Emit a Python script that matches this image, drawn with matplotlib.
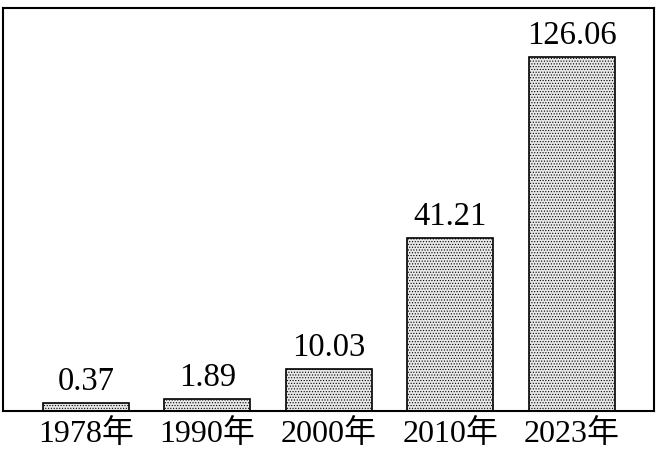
import matplotlib
matplotlib.use("Agg")
import matplotlib.pyplot as plt

plt.rcParams['font.family'] = ['Liberation Serif', 'Noto Sans CJK SC']
plt.rcParams['hatch.linewidth'] = 0.5
plt.rcParams['hatch.color'] = '#b0b0b0'

# categories and values as printed on the chart
years = ["1978年", "1990年", "2000年", "2010年", "2023年"]
values = [0.37, 1.89, 10.03, 41.21, 126.06]
# bar heights as drawn in the picture (not to scale), in the units of the tallest bar
drawn_heights = [2.85, 4.27, 14.96, 61.6, 126.06]

fig = plt.figure(figsize=(6.59, 4.5), dpi=100)
ax = fig.add_axes([3 / 659, 39 / 450, 651 / 659, 403 / 450])

x = range(len(years))
bars = ax.bar(x, drawn_heights, width=0.708, color='#e8e8e8', edgecolor='black',
              linewidth=1.2, hatch='......')

for xi, h, v in zip(x, drawn_heights, values):
    ax.annotate(f"{v:.2f}", (xi, h), xytext=(0, 4), textcoords='offset points',
                ha='center', va='bottom', fontsize=23.5)

ax.set_xlim(-0.683, 4.675)
ax.set_ylim(0, 143.5)
ax.set_xticks(list(x))
ax.set_xticklabels(years, fontsize=23)
ax.tick_params(axis='x', length=0, pad=6)
ax.set_yticks([])
for s in ax.spines.values():
    s.set_linewidth(1.5)

fig.savefig("out.png", dpi=100)
